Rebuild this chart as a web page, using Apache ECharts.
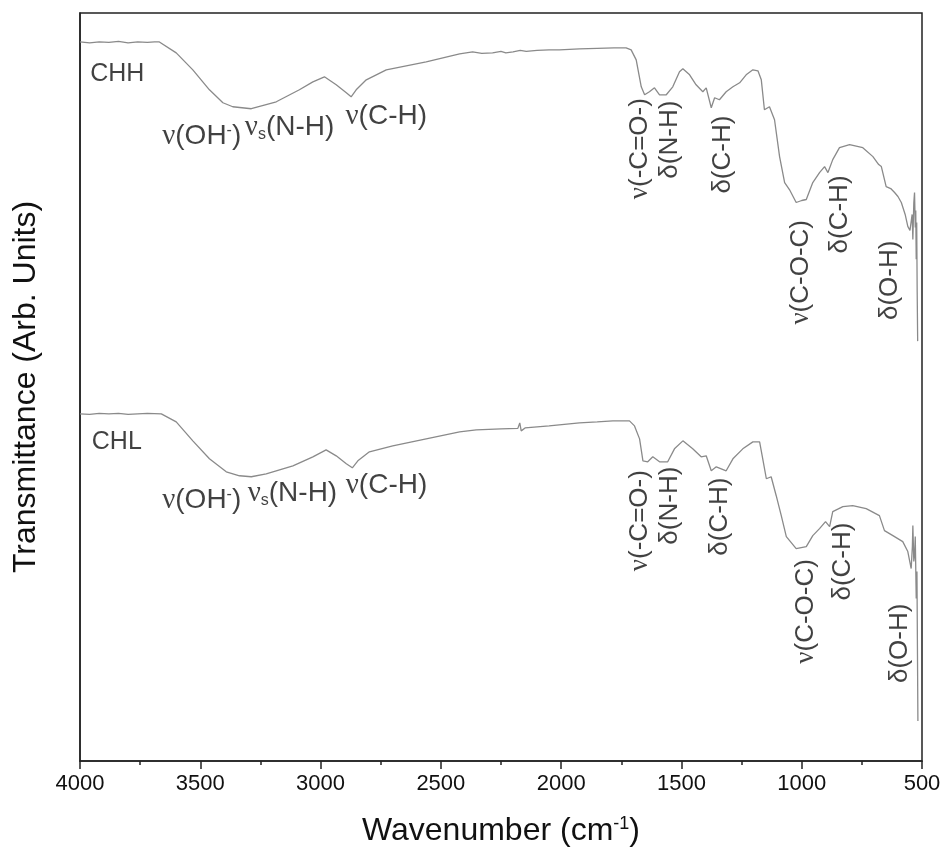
<!DOCTYPE html>
<html>
<head>
<meta charset="utf-8">
<script src="https://cdn.jsdelivr.net/npm/echarts@6/dist/echarts.min.js"></script>
<style>
  html, body { margin: 0; padding: 0; background: #ffffff; }
  #chart { width: 944px; height: 852px; }
</style>
</head>
<body>
<div id="chart"></div>
<script>
// FTIR spectra, [wavenumber (cm-1), transmittance (arb. units, stacked)]
const chhSpectrum = [
  [4000, 721], [3960, 720], [3920, 721], [3880, 720.5], [3840, 721.5], [3800, 720],
  [3760, 721], [3720, 720.5], [3690, 721], [3670, 721], [3600, 710], [3531, 693],
  [3462, 673], [3406, 660], [3365, 656], [3288, 654], [3184, 661], [3088, 673],
  [3032, 681], [2984, 686], [2935, 678], [2893, 670], [2873, 666], [2852, 673],
  [2810, 683], [2727, 693], [2561, 701], [2422, 709], [2368, 711], [2330, 709.5],
  [2285, 710], [2250, 711.5], [2230, 710], [2200, 711], [2170, 712.5], [2145, 711.5],
  [2100, 712.5], [2050, 713], [2007, 713], [1924, 714], [1850, 714.5], [1780, 715],
  [1730, 715], [1709, 713], [1688, 703], [1667, 676], [1653, 668], [1633, 671],
  [1612, 675], [1591, 668], [1563, 668], [1536, 676], [1508, 691], [1494, 694],
  [1466, 688], [1439, 678], [1411, 671], [1397, 675], [1376, 655], [1362, 665],
  [1342, 663], [1314, 671], [1286, 676], [1258, 680], [1231, 688], [1203, 693],
  [1182, 692], [1168, 683], [1155, 653], [1134, 656], [1113, 643], [1092, 606],
  [1071, 580], [1051, 573], [1023, 560], [1000, 562], [981, 563], [954, 580],
  [926, 590], [905, 596], [891, 590], [871, 603], [843, 615], [801, 618],
  [746, 615], [704, 606], [680, 598], [669, 596], [649, 576], [630, 574],
  [614, 570], [600, 566], [586, 560], [570, 548], [559, 536], [550, 532],
  [545, 530], [541, 548], [538, 523], [534, 560], [531, 570], [528, 535],
  [526, 552], [524, 503], [522, 540], [520, 470], [518, 421]
];

const chlSpectrum = [
  [4000, 348], [3960, 347.5], [3920, 348.5], [3880, 348], [3840, 348.5], [3800, 347.5],
  [3760, 348], [3720, 348.5], [3662, 348], [3600, 340], [3531, 321], [3462, 303],
  [3392, 290], [3337, 286], [3288, 285], [3226, 288], [3115, 296], [3032, 305],
  [2977, 312], [2935, 306], [2893, 298], [2868, 294], [2845, 301], [2797, 310],
  [2700, 316], [2561, 323], [2422, 330], [2353, 332], [2250, 333], [2180, 333.5],
  [2172, 339], [2166, 331], [2150, 334], [2050, 336], [1924, 339], [1850, 340],
  [1785, 341], [1716, 341], [1695, 336], [1674, 323], [1660, 301], [1640, 300],
  [1619, 305], [1591, 300], [1557, 300], [1529, 313], [1494, 321], [1453, 313],
  [1418, 305], [1397, 306], [1376, 291], [1355, 295], [1314, 291], [1286, 303],
  [1245, 313], [1203, 320], [1175, 320], [1162, 303], [1147, 283], [1127, 285],
  [1106, 266], [1085, 246], [1064, 225], [1023, 213], [981, 215], [954, 226],
  [926, 233], [901, 240], [884, 235], [871, 250], [829, 255], [788, 256],
  [732, 253], [677, 246], [656, 231], [621, 226], [580, 220], [559, 210],
  [545, 193], [540, 215], [538, 236], [534, 200], [531, 206], [528, 225],
  [524, 163], [521, 190], [517, 40]
];

// x-axis ticks (cm-1)
const wavenumberMin = 500;
const wavenumberMax = 4000;
const wavenumberStep = 500;

// band assignments: label text, wavenumber, level, rotated
const bandText = [
  'CHH', '{g|ν}(OH{sup|-})', '{g|ν}{sub|s}(N-H)', '{g|ν}(C-H)',
  '{g|ν}(-C=O-)', 'δ(N-H)', 'δ(C-H)', '{g|ν}(C-O-C)', 'δ(C-H)', 'δ(O-H)',
  'CHL', '{g|ν}(OH{sup|-})', '{g|ν}{sub|s}(N-H)', '{g|ν}(C-H)',
  '{g|ν}(-C=O-)', 'δ(N-H)', 'δ(C-H)', '{g|ν}(C-O-C)', 'δ(C-H)', 'δ(O-H)'
];
const bandWavenumber = [
  3845, 3494, 3129, 2727, 1674, 1549, 1328, 1002, 843, 635,
  3847, 3494, 3117, 2726, 1674, 1549, 1342, 981, 829, 593
];
const bandLevel = [
  689, 626, 635, 646, 614, 623, 608, 490, 548, 482,
  320, 261, 268, 276, 241, 256, 245, 150, 200, 118
];
const bandRotated = [
  false, false, false, false, true, true, true, true, true, true,
  false, false, false, false, true, true, true, true, true, true
];
const sampleNames = ['CHH', 'CHL'];

const FONT = 'Liberation Sans, Arial, sans-serif';
const SERIF = 'Liberation Serif, DejaVu Serif, serif';
const TEXT = '#111111';
const FRAME = '#222222';
const TRACE = '#8a8a8a';

function bandFontSize(i) {
  if (sampleNames.indexOf(bandText[i]) >= 0) return 25;
  return bandRotated[i] ? 26 : 28;
}

const bandData = bandText.map((t, i) => {
  const fs = bandFontSize(i);
  return {
    value: [bandWavenumber[i], bandLevel[i]],
    label: {
      formatter: t,
      rotate: bandRotated[i] ? 90 : 0,
      fontSize: fs,
      rich: {
        g: { fontFamily: SERIF, fontSize: fs + 1, color: TEXT },
        sup: { fontSize: Math.round(fs * 0.58), verticalAlign: 'top', color: TEXT, fontFamily: FONT },
        sub: { fontSize: Math.round(fs * 0.58), verticalAlign: 'bottom', color: TEXT, fontFamily: FONT }
      }
    }
  };
});

const chart = echarts.init(document.getElementById('chart'), null, { renderer: 'canvas' });

chart.setOption({
  animation: false,
  backgroundColor: '#ffffff',
  grid: {
    left: 80, right: 22, top: 13, bottom: 89,
    show: true, borderColor: FRAME, borderWidth: 1.5, backgroundColor: 'transparent'
  },
  xAxis: {
    type: 'value',
    inverse: true,
    min: wavenumberMin,
    max: wavenumberMax,
    interval: wavenumberStep,
    axisLine: { show: true, onZero: false, lineStyle: { color: FRAME, width: 1.5 } },
    axisTick: { show: true, length: 8, lineStyle: { color: FRAME, width: 1.5 } },
    minorTick: { show: true, splitNumber: 2, length: 4, lineStyle: { color: FRAME, width: 1.5 } },
    axisLabel: {
      fontSize: 22, color: TEXT, fontFamily: FONT, margin: 12,
      formatter: (v) => String(v)
    },
    splitLine: { show: false },
    name: 'Wavenumber (cm{sup|-1})',
    nameLocation: 'middle',
    nameGap: 54,
    nameTextStyle: {
      fontSize: 32, color: TEXT, fontFamily: FONT,
      rich: { sup: { fontSize: 18, verticalAlign: 'top', color: TEXT, fontFamily: FONT } }
    }
  },
  yAxis: {
    type: 'value',
    min: 0,
    max: 750,
    axisLine: { show: true, lineStyle: { color: FRAME, width: 1.5 } },
    axisTick: { show: false },
    axisLabel: { show: false },
    splitLine: { show: false },
    name: 'Transmittance (Arb. Units)',
    nameLocation: 'middle',
    nameGap: 38,
    nameTextStyle: { fontSize: 32, color: TEXT, fontFamily: FONT }
  },
  series: [
    {
      name: 'CHH',
      type: 'line',
      data: chhSpectrum,
      showSymbol: false,
      lineStyle: { color: TRACE, width: 1.3 },
      silent: true
    },
    {
      name: 'CHL',
      type: 'line',
      data: chlSpectrum,
      showSymbol: false,
      lineStyle: { color: TRACE, width: 1.3 },
      silent: true
    },
    {
      name: 'bands',
      type: 'scatter',
      data: bandData,
      symbolSize: 1,
      itemStyle: { color: 'rgba(0,0,0,0)' },
      silent: true,
      label: {
        show: true,
        position: 'inside',
        color: TEXT,
        fontFamily: FONT
      }
    }
  ]
});
</script>
</body>
</html>
